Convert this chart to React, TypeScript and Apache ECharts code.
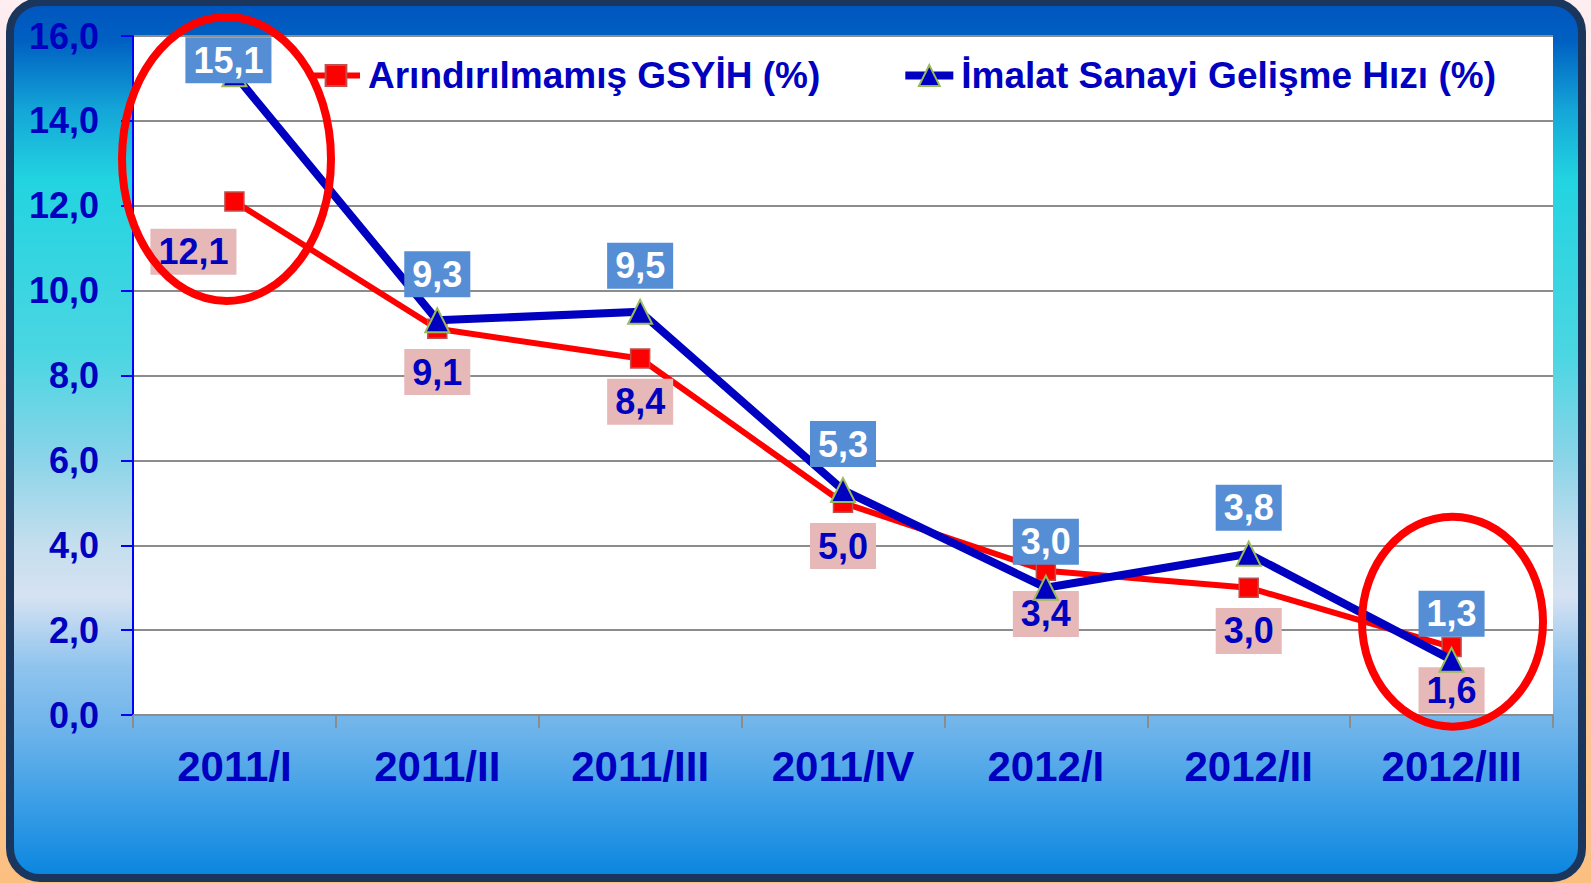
import React, { useEffect, useRef } from "react";
import * as echarts from "echarts";

const categories = ["2011/I", "2011/II", "2011/III", "2011/IV", "2012/I", "2012/II", "2012/III"];
const gsyihValues = [12.1, 9.1, 8.4, 5.0, 3.4, 3.0, 1.6];
const imalatValues = [15.1, 9.3, 9.5, 5.3, 3.0, 3.8, 1.3];
const gsyihName = "Arındırılmamış GSYİH (%)";
const imalatName = "İmalat Sanayi Gelişme Hızı (%)";
const yMin = 0;
const yMax = 16;
const yInterval = 2;

const FONT = "'Liberation Sans', Arial, sans-serif";
const DARK_BLUE = "#0000c0";

const fmt = (v: number) => v.toFixed(1).replace(".", ",");

export default function App() {
  const ref = useRef<HTMLDivElement>(null);

  useEffect(() => {
    if (!ref.current) return;
    const chart = echarts.init(ref.current, null, { renderer: "svg" });

    const gsyihData = gsyihValues.map((v, i) =>
      i === 0 ? { value: v, label: { offset: [-41, 7] } } : v
    );
    const imalatData = imalatValues.map((v, i) =>
      i === 0 ? { value: v, label: { offset: [-6, 32] } } : v
    );

    chart.setOption({
      animation: false,
      backgroundColor: "transparent",
      textStyle: { fontFamily: FONT },
      grid: {
        left: 133,
        right: 38,
        top: 36,
        bottom: 168,
        show: true,
        backgroundColor: "#ffffff",
        borderWidth: 0,
      },
      legend: {
        left: 304,
        top: 52,
        itemWidth: 48,
        itemHeight: 26,
        itemGap: 81,
        textStyle: {
          color: DARK_BLUE,
          fontSize: 37,
          fontWeight: "bold",
          fontFamily: FONT,
          padding: [0, 0, 0, 3],
        },
        data: [
          { name: gsyihName, lineStyle: { width: 6, color: "#ff0000" } },
          { name: imalatName, lineStyle: { width: 8, color: "#0000c0" } },
        ],
      },
      xAxis: {
        type: "category",
        data: categories,
        boundaryGap: true,
        axisLine: { show: true, lineStyle: { color: "#8c8c8c", width: 2 } },
        axisTick: { show: true, length: 13, lineStyle: { color: "#8c8c8c", width: 2 } },
        axisLabel: {
          color: DARK_BLUE,
          fontSize: 42,
          fontWeight: "bold",
          fontFamily: FONT,
          margin: 30,
          interval: 0,
        },
        splitLine: { show: false },
      },
      yAxis: {
        type: "value",
        min: yMin,
        max: yMax,
        interval: yInterval,
        axisLine: { show: true, lineStyle: { color: "#0000ff", width: 2 } },
        axisTick: { show: true, length: 12, lineStyle: { color: "#0000ff", width: 2 } },
        axisLabel: {
          color: DARK_BLUE,
          fontSize: 36,
          fontWeight: "bold",
          fontFamily: FONT,
          margin: 34,
          formatter: (v: number) => fmt(v),
        },
        splitLine: { show: true, lineStyle: { color: "#8c8c8c", width: 2 } },
      },
      series: [
        {
          name: gsyihName,
          type: "line",
          data: gsyihData,
          symbol: "rect",
          symbolSize: 19,
          lineStyle: { color: "#ff0000", width: 6 },
          itemStyle: { color: "#ff0000", borderColor: "#c0504d", borderWidth: 1.5 },
          z: 2,
          label: {
            show: true,
            position: "bottom",
            distance: 10,
            formatter: (p: any) => fmt(p.value),
            color: DARK_BLUE,
            fontSize: 36,
            fontWeight: "bold",
            fontFamily: FONT,
            lineHeight: 36,
            backgroundColor: "#e6b9b8",
            padding: [5, 8, 5, 8],
          },
        },
        {
          name: imalatName,
          type: "line",
          data: imalatData,
          symbol: "triangle",
          symbolSize: 24,
          lineStyle: { color: "#0000c0", width: 8 },
          itemStyle: { color: "#0000c0", borderColor: "#9bbb59", borderWidth: 2 },
          z: 3,
          label: {
            show: true,
            position: "top",
            distance: 10,
            formatter: (p: any) => fmt(p.value),
            color: "#ffffff",
            fontSize: 36,
            fontWeight: "bold",
            fontFamily: FONT,
            lineHeight: 36,
            backgroundColor: "#558ed5",
            padding: [5, 8, 5, 8],
          },
        },
      ],
      graphic: [
        {
          type: "ellipse",
          z: 100,
          silent: true,
          shape: { cx: 226.5, cy: 159, rx: 104.5, ry: 142 },
          style: { fill: "none", stroke: "#ff0000", lineWidth: 8 },
        },
        {
          type: "ellipse",
          z: 100,
          silent: true,
          shape: { cx: 1452.5, cy: 621.7, rx: 90.5, ry: 105 },
          style: { fill: "none", stroke: "#ff0000", lineWidth: 8 },
        },
      ],
    });

    return () => chart.dispose();
  }, []);

  return (
    <div
      style={{
        position: "fixed",
        left: 0,
        top: 0,
        width: 1591,
        height: 883,
        overflow: "hidden",
        background: "linear-gradient(to bottom, #fdeef2 0%, #fcd6c0 45%, #fbbf80 100%)",
      }}
    >
      <div
        style={{
          position: "absolute",
          left: 6,
          top: -2,
          width: 1580,
          height: 884,
          boxSizing: "border-box",
          border: "8px solid #1b365d",
          borderRadius: 34,
          background:
            "linear-gradient(to bottom, #0056bf 0%, #0060c2 4%, #14a6d8 12%, #22d4e0 20%, #4ad6e2 40%, #8ad4e8 52%, #c4deee 62%, #d6e2f2 68%, #90c4ee 76%, #6ab2ea 84%, #3a9ee6 92%, #0c86e0 100%)",
        }}
      />
      <div ref={ref} style={{ position: "absolute", left: 0, top: 0, width: 1591, height: 883 }} />
    </div>
  );
}
